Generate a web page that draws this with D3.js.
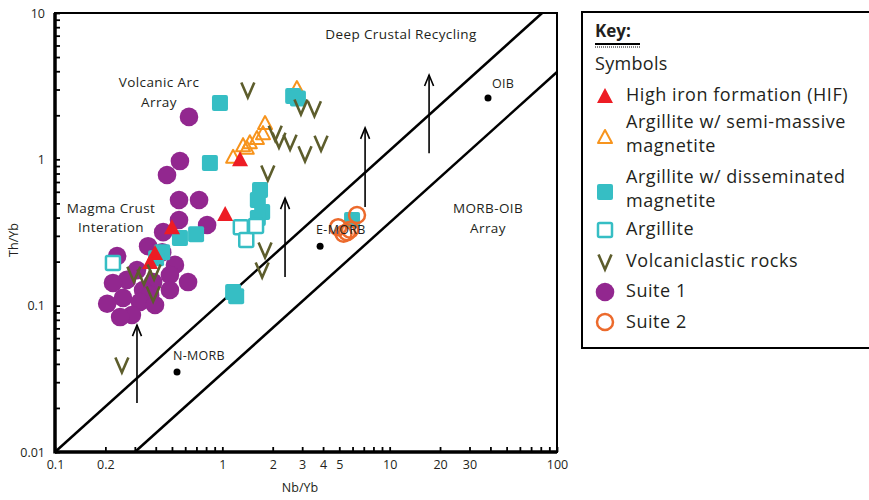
<!DOCTYPE html>
<html>
<head>
<meta charset="utf-8">
<script src="https://cdn.jsdelivr.net/npm/d3@7"></script>
<style>
    body { margin: 0; background: #fff; overflow: hidden; }
    text { font-family: "Open Sans", sans-serif; fill: #231f20; }
</style>
</head>
<body>
<div id="main"></div>
<script>

/*
    数据 (Nb/Yb, Th/Yb)
*/
const suite1 = [
    [0.632, 1.95], [0.558, 0.973], [0.467, 0.781], [0.551, 0.527], [0.726, 0.527],
    [0.551, 0.385], [0.811, 0.356], [0.443, 0.318], [0.360, 0.255], [0.437, 0.232],
    [0.235, 0.218], [0.521, 0.190], [0.309, 0.175], [0.486, 0.162], [0.269, 0.150],
    [0.386, 0.145], [0.624, 0.145], [0.222, 0.143], [0.336, 0.128], [0.486, 0.128],
    [0.370, 0.118], [0.255, 0.113], [0.322, 0.106], [0.205, 0.103], [0.288, 0.0863],
    [0.245, 0.0836], [0.396, 0.101]
];
const semiMassive = [
    [1.16, 1.04], [1.33, 1.25], [1.46, 1.31], [1.61, 1.40], [1.75, 1.51],
    [1.80, 1.77], [1.40, 1.20], [2.79, 3.07]
];
const disseminated = [
    [0.968, 2.43], [0.843, 0.944], [2.65, 2.71], [2.83, 2.60], [1.68, 0.617],
    [1.63, 0.527], [1.73, 0.436], [1.63, 0.397], [1.16, 0.124], [1.21, 0.116],
    [5.96, 0.385], [0.558, 0.290], [0.697, 0.308], [0.437, 0.232], [0.402, 0.211]
];
const argillite = [
    [1.29, 0.344], [1.39, 0.281], [1.59, 0.350], [0.222, 0.196]
];
const hif = [
    [1.276, 1.00], [1.04, 0.423], [0.500, 0.344], [0.396, 0.229], [0.370, 0.199]
];
const volcaniclastic = [
    [1.42, 2.98], [2.95, 2.28], [3.55, 2.22], [2.07, 1.51], [2.18, 1.35],
    [2.54, 1.31], [3.12, 1.09], [3.89, 1.29], [1.87, 0.806], [1.80, 0.240],
    [1.73, 0.175], [0.296, 0.164], [0.340, 0.157], [0.391, 0.170], [0.386, 0.120],
    [0.251, 0.0393]
];
const suite2 = [
    [6.38, 0.416], [4.92, 0.344], [5.56, 0.318], [5.80, 0.330], [5.30, 0.310]
];

// 参考点
const refNames = ["N-MORB", "E-MORB", "OIB"];
const refValues = [[0.536, 0.0352], [3.84, 0.255], [38.7, 2.62]];

// MORB-OIB 阵列边界线
const arrayLines = [
    [[0.1, 0.01], [81.5, 10]],
    [[0.3, 0.01], [100, 3.95]]
];

// 箭头 (x, y起点, y终点)
const arrows = [
    [0.309, 0.0216, 0.0736],
    [2.37, 0.157, 0.543],
    [7.13, 0.472, 1.64],
    [17.2, 1.10, 3.77]
];

const xTickLabels = [0.1, 0.2, 1, 2, 3, 4, 5, 10, 20, 30, 100];
const yTickLabels = [0.01, 0.1, 1, 10];

/*
    图表大小及颜色
*/
const W = 869, H = 500,
      mLeft = 55, mRight = 557, mTop = 13, mBottom = 452;

const red = '#ed1c24',
      orange = '#f7941d',
      cyan = '#36bec4',
      olive = '#5d5d2c',
      purple = '#92278f',
      orange2 = '#ec6a2c';

var svg = d3.select("#main")
    .append("svg")
    .attr("width", W)
    .attr("height", H)
    .style("display", "block");

svg.append("rect").attr("width", W).attr("height", H).attr("fill", "#fff");

var xScale = d3.scaleLog().domain([0.1, 100]).range([mLeft, mRight]);
var yScale = d3.scaleLog().domain([0.01, 10]).range([mBottom, mTop]);

const near = (arr, d) => arr.some(v => Math.abs(v - d) / v < 1e-6);

/*
    坐标轴
*/
var xAxis = d3.axisBottom(xScale)
    .tickValues(xScale.ticks())
    .tickSize(-5)
    .tickPadding(8)
    .tickFormat(d => near(xTickLabels, d) ? String(d) : "");

var yAxis = d3.axisLeft(yScale)
    .tickValues(yScale.ticks())
    .tickSize(-5)
    .tickPadding(10)
    .tickFormat(d => near(yTickLabels, d) ? String(d) : "");

var gx = svg.append("g")
    .attr("transform", "translate(0," + mBottom + ")")
    .call(xAxis);
var gy = svg.append("g")
    .attr("transform", "translate(" + mLeft + ",0)")
    .call(yAxis);

[gx, gy].forEach(g => {
    g.select(".domain").remove();
    g.selectAll(".tick line").attr("stroke", "#000").attr("stroke-width", 1.8);
    g.selectAll(".tick text").attr("font-size", 12.5).attr("fill", "#231f20")
        .style("font-family", '"Open Sans", sans-serif');
});

// 边框
svg.append("rect")
    .attr("x", mLeft).attr("y", mTop)
    .attr("width", mRight - mLeft).attr("height", mBottom - mTop)
    .attr("fill", "none").attr("stroke", "#000").attr("stroke-width", 2);
svg.append("line").attr("x1", mLeft).attr("x2", mLeft).attr("y1", mTop).attr("y2", mBottom + 1.5)
    .attr("stroke", "#000").attr("stroke-width", 3.5);
svg.append("line").attr("x1", mLeft).attr("x2", mRight).attr("y1", mBottom).attr("y2", mBottom)
    .attr("stroke", "#000").attr("stroke-width", 3.5);

svg.append("text").text("Nb/Yb").attr("x", 300).attr("y", 492)
    .attr("text-anchor", "middle").attr("font-size", 12.5);
svg.append("text").text("Th/Yb")
    .attr("transform", "translate(18,240) rotate(-90)")
    .attr("text-anchor", "middle").attr("font-size", 12.5);

/*
    阵列线和箭头
*/
var plot = svg.append("g");

plot.selectAll("line.array")
    .data(arrayLines)
    .enter()
    .append("line")
    .attr("class", "array")
    .attr("x1", d => xScale(d[0][0])).attr("y1", d => yScale(d[0][1]))
    .attr("x2", d => xScale(d[1][0])).attr("y2", d => yScale(d[1][1]))
    .attr("stroke", "#000").attr("stroke-width", 2.5);

arrows.forEach(a => {
    var x = xScale(a[0]), y0 = yScale(a[1]), y1 = yScale(a[2]);
    plot.append("line")
        .attr("x1", x).attr("x2", x).attr("y1", y0).attr("y2", y1)
        .attr("stroke", "#000").attr("stroke-width", 1.6);
    plot.append("path")
        .attr("d", "M" + (x - 4.5) + "," + (y1 + 11) + "L" + x + "," + y1 + "L" + (x + 4.5) + "," + (y1 + 11))
        .attr("fill", "none").attr("stroke", "#000").attr("stroke-width", 1.6);
});

/*
    注释文字
*/
const notes = [
    ["Deep Crustal Recycling", 401, 39],
    ["Volcanic Arc", 159, 87],
    ["Array", 159, 107],
    ["Magma Crust", 111, 213],
    ["Interation", 111, 232],
    ["MORB-OIB", 488, 213],
    ["Array", 488, 233]
];
plot.selectAll("text.note")
    .data(notes)
    .enter()
    .append("text")
    .attr("class", "note")
    .text(d => d[0])
    .attr("x", d => d[1]).attr("y", d => d[2])
    .attr("text-anchor", "middle")
    .attr("font-size", 13.5)
    .attr("letter-spacing", 0.4);

/*
    符号
*/
function symbol(g, type) {
    if (type === "hif") {
        g.append("path").attr("d", "M0,-8L8,7L-8,7Z").attr("fill", red);
    } else if (type === "semi") {
        g.append("path").attr("d", "M0,-7L7,6L-7,6Z").attr("fill", "none")
            .attr("stroke", orange).attr("stroke-width", 2).attr("stroke-linejoin", "round");
    } else if (type === "diss") {
        g.append("rect").attr("x", -8).attr("y", -8).attr("width", 16).attr("height", 16)
            .attr("rx", 2).attr("fill", cyan);
    } else if (type === "arg") {
        g.append("rect").attr("x", -7).attr("y", -7).attr("width", 14).attr("height", 14)
            .attr("rx", 1.5).attr("fill", "#fff").attr("stroke", cyan).attr("stroke-width", 2.5);
    } else if (type === "volc") {
        g.append("path").attr("d", "M-6.5,-7.5L0,7.5L6.5,-7.5").attr("fill", "none")
            .attr("stroke", olive).attr("stroke-width", 2.6);
    } else if (type === "s1") {
        g.append("circle").attr("r", 9.3).attr("fill", purple);
    } else if (type === "s2") {
        g.append("circle").attr("r", 8).attr("fill", "none")
            .attr("stroke", orange2).attr("stroke-width", 2.5);
    }
}

const layers = [
    [suite1, "s1"],
    [semiMassive, "semi"],
    [disseminated, "diss"],
    [argillite, "arg"],
    [hif, "hif"],
    [volcaniclastic, "volc"],
    [suite2, "s2"]
];

layers.forEach(l => {
    plot.append("g").selectAll("g")
        .data(l[0])
        .enter()
        .append("g")
        .attr("transform", d => "translate(" + xScale(d[0]) + "," + yScale(d[1]) + ")")
        .each(function() { symbol(d3.select(this), l[1]); });
});

// 参考点
plot.selectAll("circle.ref")
    .data(refValues)
    .enter()
    .append("circle")
    .attr("class", "ref")
    .attr("cx", d => xScale(d[0])).attr("cy", d => yScale(d[1]))
    .attr("r", 3.5).attr("fill", "#000");

const refOffsets = [[-4, -12], [-4, -12], [4, -10]];
plot.selectAll("text.ref")
    .data(refValues)
    .enter()
    .append("text")
    .attr("class", "ref")
    .text((d, i) => refNames[i])
    .attr("x", (d, i) => xScale(d[0]) + refOffsets[i][0])
    .attr("y", (d, i) => yScale(d[1]) + refOffsets[i][1])
    .attr("font-size", 12.5)
    .attr("letter-spacing", 0.3);

/*
    图例
*/
var legend = svg.append("g");
legend.append("rect")
    .attr("x", 582).attr("y", 12).attr("width", 330).attr("height", 336)
    .attr("fill", "#fff").attr("stroke", "#000").attr("stroke-width", 2);

legend.append("text").text("Key:").attr("x", 595).attr("y", 37)
    .attr("font-size", 17).attr("font-weight", "bold");
legend.append("line").attr("x1", 595).attr("x2", 640).attr("y1", 44).attr("y2", 44)
    .attr("stroke", "#000").attr("stroke-width", 1.8);
legend.append("line").attr("x1", 595).attr("x2", 640).attr("y1", 47).attr("y2", 47)
    .attr("stroke", "#000").attr("stroke-width", 1).attr("stroke-dasharray", "1,1");
legend.append("text").text("Symbols").attr("x", 595).attr("y", 70)
    .attr("font-size", 18).attr("letter-spacing", 0.3);

const legendItems = [
    ["hif", ["High iron formation (HIF)"], 96, 101],
    ["semi", ["Argillite w/ semi-massive", "magnetite"], 137, 128],
    ["diss", ["Argillite w/ disseminated", "magnetite"], 192, 183],
    ["arg", ["Argillite"], 230, 235],
    ["volc", ["Volcaniclastic rocks"], 262, 267],
    ["s1", ["Suite 1"], 292, 297],
    ["s2", ["Suite 2"], 322, 328]
];

legendItems.forEach(it => {
    var g = legend.append("g").attr("transform", "translate(605," + it[2] + ")");
    symbol(g, it[0]);
    it[1].forEach((line, j) => {
        legend.append("text").text(line)
            .attr("x", 626).attr("y", it[3] + j * 24)
            .attr("font-size", 18)
            .attr("letter-spacing", 0.55);
    });
});

</script>
</body>
</html>
